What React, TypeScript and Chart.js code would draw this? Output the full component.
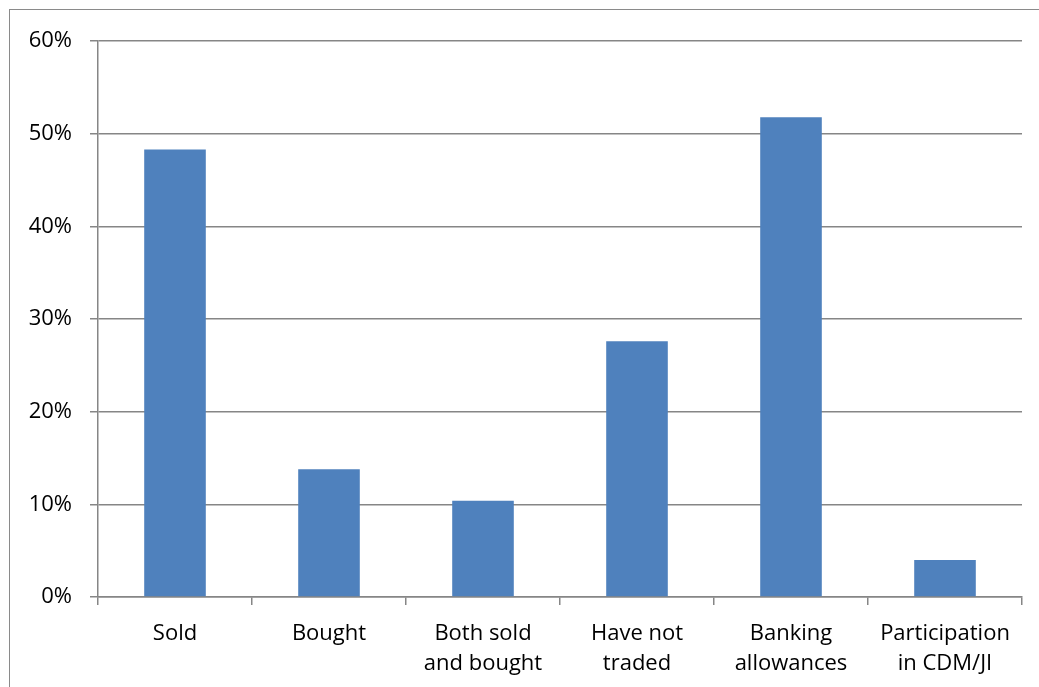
import React, { useEffect, useRef } from "react";
import { Chart, registerables } from "chart.js";

Chart.register(...registerables);

const categories: (string | string[])[] = [
  "Sold",
  "Bought",
  ["Both sold", "and bought"],
  ["Have not", "traded"],
  ["Banking", "allowances"],
  ["Participation", "in CDM/JI"],
];
const values: number[] = [48.3, 13.8, 10.4, 27.6, 51.8, 4.0];
const yTicks: number[] = [0, 10, 20, 30, 40, 50, 60];

const FONT = "'Open Sans', 'Liberation Sans', sans-serif";
const GRID = "#868686";

export default function App() {
  const ref = useRef<HTMLCanvasElement | null>(null);
  useEffect(() => {
    if (!ref.current) return;
    const chart = new Chart(ref.current, {
      type: "bar",
      data: {
        labels: categories,
        datasets: [
          {
            data: values,
            backgroundColor: "#4F81BD",
            borderWidth: 0,
            categoryPercentage: 1,
            barPercentage: 0.4,
          },
        ],
      },
      options: {
        animation: false,
        responsive: false,
        layout: { padding: { top: 31, right: 17, left: 0, bottom: 0 } },
        plugins: { legend: { display: false }, tooltip: { enabled: false } },
        scales: {
          x: {
            grid: {
              offset: true,
              drawOnChartArea: false,
              drawTicks: true,
              tickLength: 8,
              color: GRID,
              lineWidth: 1.5,
            },
            border: { color: GRID, width: 1.5 },
            ticks: {
              color: "#000",
              font: { family: FONT, size: 22, lineHeight: 1.36 },
              padding: 14,
              maxRotation: 0,
              autoSkip: false,
            },
            afterFit: (s: any) => {
              s.height = 90;
            },
          },
          y: {
            min: 0,
            max: 60,
            afterBuildTicks: (s: any) => {
              s.ticks = yTicks.map((v) => ({ value: v }));
            },
            grid: {
              color: GRID,
              lineWidth: 1.5,
              tickLength: 8,
            },
            border: { color: GRID, width: 1.5 },
            ticks: {
              color: "#000",
              font: { family: FONT, size: 22 },
              padding: 18,
              callback: (v: any) => v + "%",
            },
            afterFit: (s: any) => {
              s.width = 88;
            },
          },
        },
      },
    });
    return () => chart.destroy();
  }, []);
  return (
    <div style={{ position: "fixed", left: 0, top: 0, width: 1039, height: 687, background: "#fff", overflow: "hidden" }}>
      <div
        style={{
          position: "absolute",
          left: 9,
          top: 9,
          width: 1100,
          height: 800,
          border: "1.5px solid #8a8a8a",
          boxSizing: "border-box",
        }}
      />
      <canvas ref={ref} width={1029} height={677} style={{ position: "absolute", left: 10, top: 10 }} />
    </div>
  );
}
